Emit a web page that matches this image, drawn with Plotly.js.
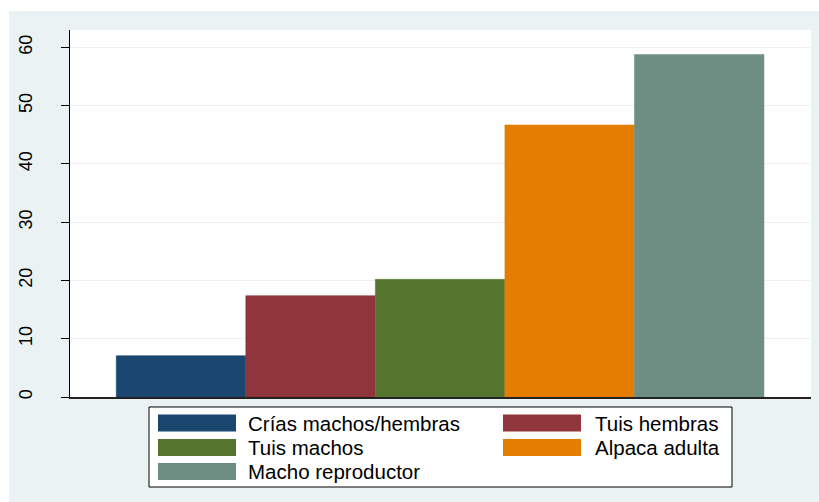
<!DOCTYPE html>
<html>
<head>
<meta charset="utf-8">
<script src="https://cdn.plot.ly/plotly-3.0.1.min.js"></script>
<style>
  html, body { margin: 0; padding: 0; background: #ffffff; }
  #chart { position: absolute; left: 9px; top: 11px; width: 810px; height: 491px; }
</style>
</head>
<body>
<div id="chart"></div>
<script>
// ---- data ----
const categories = ['Crías machos/hembras', 'Tuis hembras', 'Tuis machos', 'Alpaca adulta', 'Macho reproductor'];
const values = [7.1, 17.4, 20.2, 46.7, 58.8];
const colors = ['#1A476F', '#90353B', '#55752F', '#E37E00', '#6E8E84'];
const yTickVals = [0, 10, 20, 30, 40, 50, 60];
const yTickText = ['0', '10', '20', '30', '40', '50', '60'];

// ---- layout helpers (page pixel -> plot paper coords) ----
const PL = 70, PR = 811, PT = 30, PB = 397;
const px2x = p => (p - PL) / (PR - PL);
const py2y = p => (PB - p) / (PB - PT);

const trace = {
  type: 'bar',
  x: categories,
  y: values,
  width: 1,
  marker: { color: colors, line: { color: colors, width: 0.5 } },
  hoverinfo: 'x+y',
  showlegend: false
};

// custom legend (wide swatches like the original)
const legendCols = [{ sw: 158, tx: 248 }, { sw: 503, tx: 595 }];
const rowCenters = [423, 447.5, 471.5];
const swW = 78, swH = 17;
const shapes = [{
  type: 'rect', xref: 'paper', yref: 'paper',
  x0: px2x(149), x1: px2x(732), y0: py2y(407), y1: py2y(487),
  fillcolor: '#ffffff', line: { color: '#000000', width: 1 }
}];
const annotations = [];
categories.forEach((c, i) => {
  const col = legendCols[i % 2];
  const cy = rowCenters[Math.floor(i / 2)];
  shapes.push({
    type: 'rect', xref: 'paper', yref: 'paper',
    x0: px2x(col.sw), x1: px2x(col.sw + swW),
    y0: py2y(cy - swH / 2), y1: py2y(cy + swH / 2),
    fillcolor: colors[i], line: { width: 0 }
  });
  annotations.push({
    xref: 'paper', yref: 'paper',
    x: px2x(col.tx - 2), y: py2y(cy),
    xanchor: 'left', yanchor: 'middle',
    text: c, showarrow: false,
    font: { family: 'Liberation Sans, Arial, sans-serif', size: 20.5, color: '#000000' }
  });
});

const layout = {
  width: 810, height: 491,
  margin: { l: 61, r: 8, t: 19, b: 105, pad: 0 },
  paper_bgcolor: '#EAF2F3',
  plot_bgcolor: '#ffffff',
  bargap: 0,
  showlegend: false,
  xaxis: {
    type: 'category',
    range: [-0.857, 4.863],
    showticklabels: false,
    ticks: '',
    showgrid: false,
    zeroline: false,
    showline: true,
    linecolor: '#222222',
    linewidth: 1.5,
    fixedrange: true
  },
  yaxis: {
    range: [0, 63],
    tickvals: yTickVals,
    ticktext: yTickText,
    tickangle: -90,
    ticks: 'outside',
    ticklen: 8,
    tickwidth: 1,
    tickcolor: '#000000',
    ticklabelstandoff: 22,
    tickfont: { family: 'Liberation Sans, Arial, sans-serif', size: 18, color: '#000000' },
    showgrid: true,
    gridcolor: '#EAF2F3',
    gridwidth: 1,
    zeroline: false,
    showline: true,
    linecolor: '#000000',
    linewidth: 1,
    fixedrange: true
  },
  shapes: shapes,
  annotations: annotations
};

Plotly.newPlot('chart', [trace], layout, { displayModeBar: false, staticPlot: true });
</script>
</body>
</html>
